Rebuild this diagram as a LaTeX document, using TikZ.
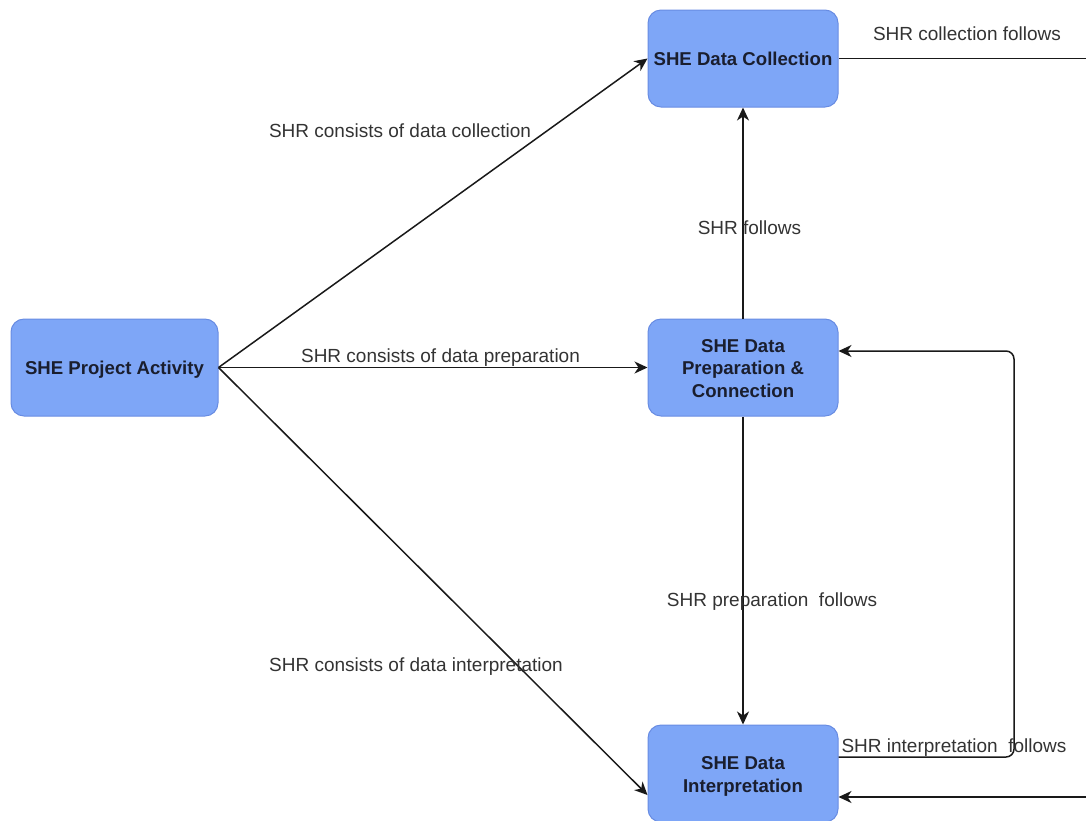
\documentclass[tikz,border=0pt]{standalone}
\usepackage{fontspec}
\setmainfont{Liberation Sans}
\usetikzlibrary{arrows.meta}
\definecolor{boxfill}{RGB}{126,166,247}
\definecolor{boxline}{RGB}{104,140,226}
\definecolor{boxtext}{RGB}{26,30,46}
\definecolor{lbltext}{RGB}{51,51,51}
% box text, centred in its box and set a little low
\newcommand{\boxlines}[1]{\raisebox{-3.6pt}[0pt][0pt]{\begin{tabular}{@{}c@{}}#1\end{tabular}}}
\tikzset{
  shebox/.style={draw=boxline, line width=0.5pt, fill=boxfill, rounded corners=6.5pt,
    minimum width=95pt, minimum height=48.5pt, inner sep=0pt, align=center,
    text=boxtext, font=\fontsize{9.3pt}{11.3pt}\selectfont\bfseries},
  flow/.style={line width=0.75pt, draw=black!90},
  arr/.style={flow, -{Stealth[length=6.5pt,width=6pt,inset=2pt]}},
  lbl/.style={inner sep=0pt, text=lbltext, font=\fontsize{9.5pt}{11.5pt}\selectfont}
}
\begin{document}
\begin{tikzpicture}[x=0.5pt,y=-0.5pt]
\useasboundingbox (0,0) rectangle (1086,820);
\clip (0,0) rectangle (1086,820);

% activity boxes
\node[shebox, minimum width=103.5pt] (act) at (114.5,367.5) {\boxlines{SHE Project Activity}};
\node[shebox] (coll) at (743,58.5) {\boxlines{SHE Data Collection}};
\node[shebox] (prep) at (743,367.5) {\boxlines{SHE Data\\Preparation \&\\Connection}};
\node[shebox] (interp) at (743,773.5) {\boxlines{SHE Data\\Interpretation}};

% helper points for the routed connectors
\coordinate (offB) at (1100,797);
\coordinate (c1) at (1014,757);
\coordinate (c2) at (1014,351);

% connectors
\draw[arr] (act.east) -- (coll.west);
\draw[arr] (act.east) -- (prep.west);
\draw[arr] (act.east) -- ([yshift=-10.75pt]interp.west);
\draw[arr] (prep.north) -- (coll.south);
\draw[arr] (prep.south) -- (interp.north);
\draw[arr, rounded corners=4pt] (c1 -| interp.east) -- (c1) -- (c2) -- (c2 -| prep.east);
\draw[flow] (coll.east) -- ++(280,0) coordinate (offT);
\draw[arr] (offB) -- (offB -| interp.east);

% connector labels
\node[lbl] (l1) at (400,130.5) {SHR consists of data collection};
\node[lbl] (l2) at (440.5,357.5) {SHR consists of data preparation};
\node[lbl] (l3) at (416,666.5) {SHR consists of data interpretation};
\node[lbl] (l4) at (749.5,227.5) {SHR follows};
\node[lbl] (l5) at (772,601.5) {SHR preparation\ \ follows};
\node[lbl] (l6) at (954,747.5) {SHR interpretation\ \ follows};
\node[lbl] (l7) at (967,33.5) {SHR collection follows};
\end{tikzpicture}
\end{document}
